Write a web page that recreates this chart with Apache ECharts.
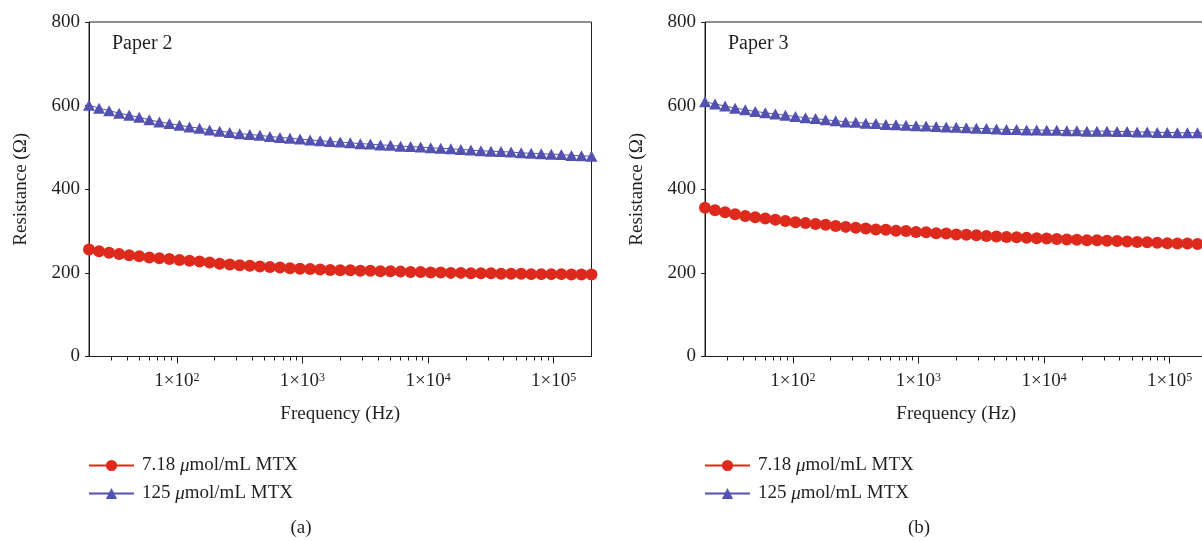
<!DOCTYPE html>
<html>
<head>
<meta charset="utf-8">
<script src="https://cdn.jsdelivr.net/npm/echarts@6/dist/echarts.min.js"></script>
<style>
html,body{margin:0;padding:0;background:#fff;}
#chart{width:1202px;height:541px;}
</style>
</head>
<body>
<div id="chart"></div>
<script>
const frequencies = [20, 24.05, 28.91, 34.76, 41.79, 50.24, 60.4, 72.62, 87.3, 104.96, 126.19, 151.72, 182.4, 219.3, 263.7, 316.98, 381.1, 458.2, 550.8, 662.3, 796.2, 957.3, 1150.9, 1383.7, 1663.5, 2000, 2404.5, 2890.8, 3475.6, 4178.6, 5023.8, 6039.9, 7261.6, 8730.4, 10496, 12619, 15172, 18240, 21930, 26366, 31698, 38109, 45817, 55085, 66226, 79621, 95726, 115087, 138366, 166353, 200000];

const paper2Low = [256, 252, 248, 245, 242, 240, 237, 235, 233, 231, 229, 227, 225, 222, 220, 218, 217, 215, 214, 213, 211, 210, 209, 208, 207, 206, 206, 205, 205, 204, 204, 203, 202, 202, 201, 201, 200, 200, 199, 199, 199, 198, 198, 198, 197, 197, 197, 197, 196, 196, 196];
const paper2High = [601, 594, 588, 582, 577, 572, 566, 561, 557, 553, 549, 546, 542, 539, 536, 533, 531, 529, 526, 524, 522, 520, 518, 516, 514, 513, 511, 509, 508, 506, 505, 503, 502, 501, 499, 498, 497, 495, 494, 492, 491, 490, 489, 487, 486, 485, 484, 483, 481, 480, 479];
const paper3Low = [356, 350, 345, 340, 336, 333, 330, 327, 324, 321, 319, 317, 315, 312, 310, 308, 306, 304, 303, 301, 300, 298, 297, 295, 294, 292, 291, 290, 288, 287, 286, 285, 284, 283, 282, 281, 280, 279, 278, 278, 277, 276, 275, 274, 273, 272, 271, 270, 270, 269, 268];
const paper3High = [609, 604, 599, 594, 590, 586, 583, 580, 577, 574, 571, 569, 566, 564, 561, 560, 558, 557, 555, 554, 553, 552, 551, 550, 549, 548, 547, 546, 545, 544, 543, 543, 542, 542, 541, 541, 540, 540, 539, 539, 539, 538, 538, 537, 537, 536, 536, 535, 535, 535, 534];

const seriesNames = ['7.18 μmol/mL MTX', '125 μmol/mL MTX'];
const panelTitles = ['Paper 2', 'Paper 3'];
const panelCaptions = ['(a)', '(b)'];
const majorTicks = [100, 1000, 10000, 100000];
const minorTicks = [30, 40, 50, 60, 70, 80, 90, 200, 300, 400, 500, 600, 700, 800, 900, 2000, 3000, 4000, 5000, 6000, 7000, 8000, 9000, 20000, 30000, 40000, 50000, 60000, 70000, 80000, 90000];
const yTicks = [0, 200, 400, 600, 800];

const FONT = '"Liberation Serif", "Times New Roman", serif';
const INK = '#231f20';
const RED = '#dd2a1c';
const BLUE = '#5352b1';

const grids = [
  {left: 89, top: 22, width: 502.5, height: 334.5},
  {left: 705, top: 22, width: 502.5, height: 334.5}
];

function pairs(vals) { return frequencies.map((f, i) => [f, vals[i]]); }

const xAxes = [];
const yAxes = [];
grids.forEach((g, gi) => {
  xAxes.push({
    gridIndex: gi, type: 'log', logBase: 10, min: 20, max: 200000, position: 'bottom',
    name: 'Frequency (Hz)', nameLocation: 'middle', nameGap: 48,
    nameTextStyle: {fontFamily: FONT, fontSize: 19, color: INK},
    axisLine: {show: true, lineStyle: {color: INK, width: 1}},
    axisTick: {show: true, inside: false, length: 7, lineStyle: {color: INK}, customValues: majorTicks},
    axisLabel: {
      show: true, margin: 15, customValues: majorTicks,
      fontFamily: FONT, fontSize: 19, color: INK, lineHeight: 20,
      formatter: v => '1×10{s|' + Math.round(Math.log10(v)) + '}',
      rich: {s: {fontFamily: FONT, fontSize: 12, lineHeight: 12, verticalAlign: 'top', color: INK}}
    },
    splitLine: {show: false}, minorTick: {show: false}
  });
  xAxes.push({
    gridIndex: gi, type: 'log', logBase: 10, min: 20, max: 200000, position: 'bottom',
    axisLine: {show: false},
    axisTick: {show: true, inside: false, length: 4, lineStyle: {color: INK}, customValues: minorTicks},
    axisLabel: {show: false},
    splitLine: {show: false}
  });
  yAxes.push({
    gridIndex: gi, type: 'value', min: 0, max: 800, interval: 200,
    name: 'Resistance (Ω)', nameLocation: 'middle', nameGap: 58,
    nameTextStyle: {fontFamily: FONT, fontSize: 19, color: INK},
    axisLine: {show: true, lineStyle: {color: INK, width: 1}},
    axisTick: {show: true, inside: false, length: 4, lineStyle: {color: INK}},
    axisLabel: {margin: 9, fontFamily: FONT, fontSize: 19, color: INK},
    splitLine: {show: false}
  });
});

const dataSets = [[paper2Low, paper2High], [paper3Low, paper3High]];
const series = [];
dataSets.forEach((ds, gi) => {
  series.push({
    name: seriesNames[0], type: 'line', xAxisIndex: gi * 2, yAxisIndex: gi,
    data: pairs(ds[0]), symbol: 'circle', symbolSize: 12, clip: false,
    itemStyle: {color: RED}, lineStyle: {color: RED, width: 1}, z: 3
  });
  series.push({
    name: seriesNames[1], type: 'line', xAxisIndex: gi * 2, yAxisIndex: gi,
    data: pairs(ds[1]), symbol: 'triangle', symbolSize: [12, 11], clip: false,
    itemStyle: {color: BLUE}, lineStyle: {color: BLUE, width: 1}, z: 4
  });
});

const legends = [88, 704].map(x => ({
  orient: 'vertical', left: x, top: 456, padding: 0, itemWidth: 45, itemHeight: 14, itemGap: 9,
  data: seriesNames, selectedMode: false,
  formatter: n => n.replace('μ', '{i|μ}'),
  textStyle: {fontFamily: FONT, fontSize: 19, color: INK, padding: [0, 0, 0, 3],
    rich: {i: {fontFamily: FONT, fontSize: 19, fontStyle: 'italic', color: INK}}}
}));

const graphics = [];
[112, 728].forEach((x, i) => graphics.push({
  type: 'text', left: x, top: 34,
  style: {text: panelTitles[i], font: '20px ' + FONT, fill: INK}
}));
[301, 919].forEach((x, i) => graphics.push({
  type: 'text', x: x, y: 528,
  style: {text: panelCaptions[i], font: '19px ' + FONT, fill: INK, align: 'center', verticalAlign: 'middle'}
}));

const chart = echarts.init(document.getElementById('chart'));
chart.setOption({
  animation: false,
  backgroundColor: '#ffffff',
  grid: grids.map(g => Object.assign({show: true, borderColor: INK, borderWidth: 1, backgroundColor: 'transparent', outerBoundsMode: 'none', containLabel: false}, g)),
  xAxis: xAxes,
  yAxis: yAxes,
  legend: legends,
  series: series,
  graphic: graphics
});
</script>
</body>
</html>
